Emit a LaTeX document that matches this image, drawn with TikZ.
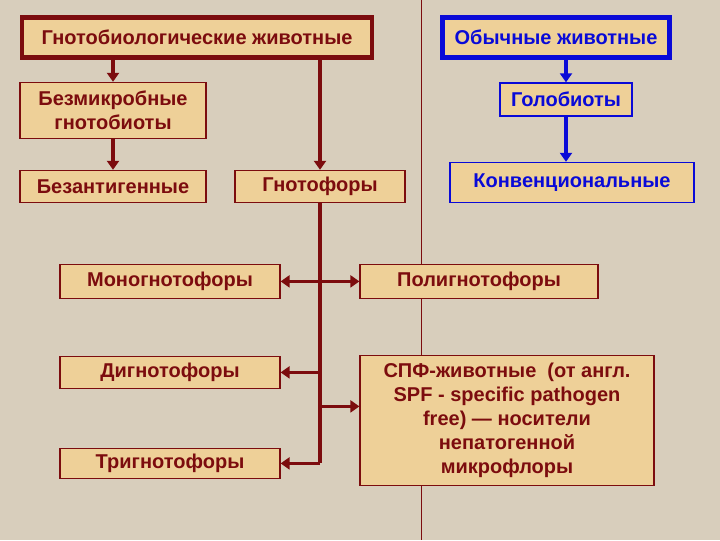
\documentclass[tikz,border=0pt]{standalone}
\usepackage{fontspec}
\setmainfont{Liberation Sans}
\usepackage{xcolor}
\usepackage{tikz}
\usetikzlibrary{arrows.meta,positioning}

\definecolor{bgtan}{RGB}{216,206,188}
\definecolor{boxtan}{RGB}{238,208,152}
\definecolor{darkred}{RGB}{124,12,14}
\definecolor{deepblue}{RGB}{10,10,215}

\tikzset{
  redbox/.style={draw=darkred, line width=1.2pt, fill=boxtan, text=darkred,
    inner sep=2pt, align=center},
  bluebox/.style={redbox, draw=deepblue, text=deepblue},
  headred/.style={redbox, line width=4.5pt},
  headblue/.style={bluebox, line width=4.5pt},
  redarrow/.style={draw=darkred, line width=3.2pt, -{Triangle[length=9pt,width=12pt]}},
  bluearrow/.style={redarrow, draw=deepblue},
}

\begin{document}
\begin{tikzpicture}[x=1pt, y=-1pt, font=\bfseries\fontsize{20}{24}\selectfont]
      % 1 unit = 1 px of the 720x540 slide
      \fill[bgtan] (0,0) rectangle (720,540);
      \draw[darkred, line width=0.8pt] (421,0) -- (421,540);

      % left side: gnotobiological animals
      \node[headred, minimum width=350, minimum height=40] (gnoto) at (197,37) {Гнотобиологические животные};
      \node[redbox, minimum width=186, minimum height=56] (bezmikr) at (113,110) {Безмикробные\\гнотобиоты};
      \node[redbox, minimum width=186, minimum height=32] (bezantig) at (113,186) {Безантигенные};
      \node[redbox, minimum width=170, minimum height=32] (gnotofor) at (320,186) {Гнотофоры};
      \node[redbox, minimum width=220, minimum height=34] (mono) at (170,281) {Моногнотофоры};
      \node[redbox, minimum width=238, minimum height=34] (poli) at (479,281) {Полигнотофоры};
      \node[redbox, minimum width=220, minimum height=32] (dig) at (170,372) {Дигнотофоры};
      \node[redbox, minimum width=220, minimum height=30] (tri) at (170,463) {Тригнотофоры};
      \node[redbox, minimum width=294, minimum height=130] (spf) at (507,420)
        {СПФ-животные\ \ (от англ.\\SPF - specific pathogen\\free) — носители\\непатогенной\\микрофлоры};

      % right side: ordinary animals
      \node[headblue, minimum width=227, minimum height=40] (obych) at (556,37) {Обычные животные};
      \node[bluebox, minimum width=132, minimum height=33] (golob) at (566,99) {Голобиоты};
      \node[bluebox, minimum width=244, minimum height=40] (konv) at (572,182) {Конвенциональные};

      \draw[redarrow] (gnoto.south -| bezmikr.north) -- (bezmikr.north);
      \draw[redarrow] (bezmikr.south) -- (bezantig.north);
      \draw[redarrow] (gnoto.south -| gnotofor.north) -- (gnotofor.north);
      \draw[darkred, line width=3.2pt] (gnotofor.south) -- (gnotofor.south |- tri.east);
      \draw[redarrow] (gnotofor.south |- mono.east) -- (mono.east);
      \draw[redarrow] (gnotofor.south |- poli.west) -- (poli.west);
      \draw[redarrow] (gnotofor.south |- dig.east) -- (dig.east);
      \draw[redarrow] (gnotofor.south |- tri.east) -- (tri.east);
      \coordinate (spfin) at ([yshift=14pt]spf.west);
      \draw[redarrow] (gnotofor.south |- spfin) -- (spfin);

      \draw[bluearrow] (obych.south -| golob.north) -- (golob.north);
      \draw[bluearrow] (golob.south) -- (golob.south |- konv.north);
\end{tikzpicture}
\end{document}
